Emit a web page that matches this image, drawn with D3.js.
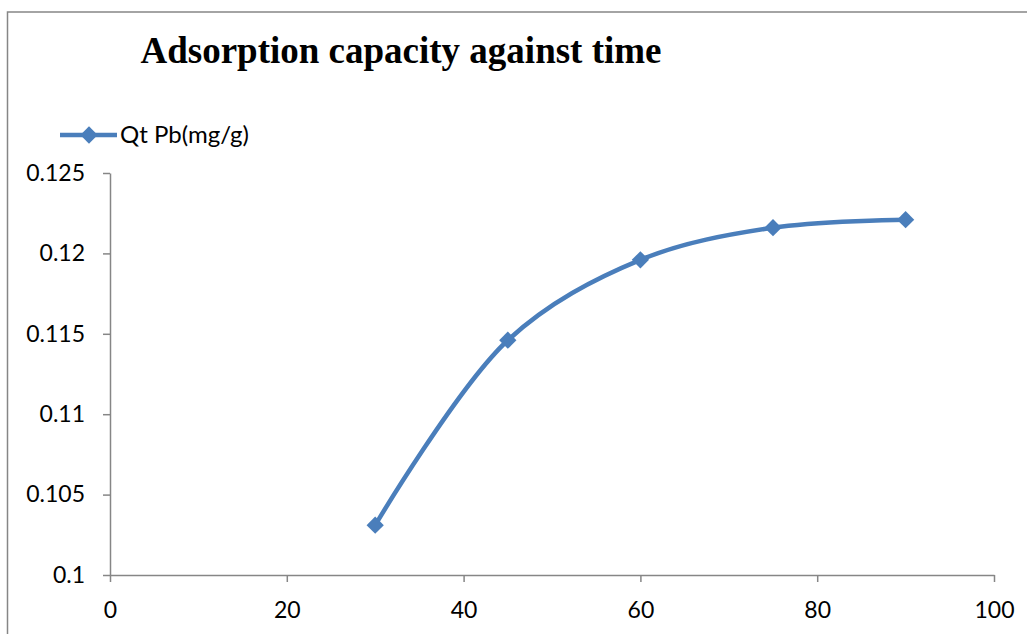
<!DOCTYPE html>
<html>
<head>
<meta charset="utf-8">
<script src="https://cdn.jsdelivr.net/npm/d3@7"></script>
<style>
  body { margin: 0; background: #fff; }
  .tick text { font-family: Lato, "Open Sans", sans-serif; font-size: 23px; fill: #000; }
</style>
</head>
<body>
<div id="chart"></div>
<script>
// time (min) vs adsorption capacity
var times = [30, 45, 60, 75, 90];
var qt = [0.1031, 0.1146, 0.1196, 0.1216, 0.1221];
var xTicks = [0, 20, 40, 60, 80, 100];
var yTicks = [0.1, 0.105, 0.11, 0.115, 0.12, 0.125];

var width = 1027, height = 634;
var svg = d3.select("#chart").append("svg")
	.attr("width", width)
	.attr("height", height);

// outer chart frame (cut off on right and bottom)
svg.append("rect")
	.attr("x", 7.5).attr("y", 12)
	.attr("width", 1040).attr("height", 700)
	.attr("fill", "none")
	.attr("stroke", "#868686")
	.attr("stroke-width", 1.5);

var x = d3.scaleLinear().domain([0, 100]).range([110, 994]);
var y = d3.scaleLinear().domain([0.1, 0.125]).range([575, 173]);

svg.append("text")
	.attr("x", 401).attr("y", 63)
	.attr("text-anchor", "middle")
	.style("font-family", "'Liberation Serif', 'Times New Roman', serif")
	.style("font-weight", "bold")
	.style("font-size", "37px")
	.text("Adsorption capacity against time");

var gx = svg.append("g")
	.attr("transform", "translate(0," + y(0.1) + ")")
	.call(d3.axisBottom(x).tickValues(xTicks).tickSize(7).tickPadding(20).tickSizeOuter(0));

var gy = svg.append("g")
	.attr("transform", "translate(" + x(0) + ",0)")
	.call(d3.axisLeft(y).tickValues(yTicks).tickSize(7).tickPadding(18).tickSizeOuter(0)
		.tickFormat(function(d) { return +d.toFixed(3) + ""; }));

[gx, gy].forEach(function(g) {
	g.select(".domain").attr("stroke", "#868686").attr("stroke-width", 1.5);
	g.selectAll(".tick line").attr("stroke", "#868686").attr("stroke-width", 1.5);
});

var color = "#4a7ebb";
var pts = times.map(function(t, i) { return [t, qt[i]]; });

svg.append("path")
	.datum(pts)
	.attr("fill", "none")
	.attr("stroke", color)
	.attr("stroke-width", 4.5)
	.attr("d", d3.line()
		.curve(d3.curveCatmullRom.alpha(0.5))
		.x(function(d) { return x(d[0]); })
		.y(function(d) { return y(d[1]); }));

var diamond = d3.symbol().type(d3.symbolDiamond2).size(190);

svg.selectAll(".pt")
	.data(pts)
	.enter().append("path")
	.attr("class", "pt")
	.attr("transform", function(d) { return "translate(" + x(d[0]) + "," + y(d[1]) + ")"; })
	.attr("d", diamond)
	.attr("fill", color);

// legend
var lg = svg.append("g").attr("transform", "translate(60,135)");
lg.append("line")
	.attr("x1", 0).attr("x2", 57)
	.attr("stroke", color).attr("stroke-width", 4.5);
lg.append("path")
	.attr("transform", "translate(29,0)")
	.attr("d", diamond)
	.attr("fill", color);
lg.append("text")
	.attr("x", 60).attr("dy", "0.35em")
	.style("font-family", "Lato, 'Open Sans', sans-serif")
	.style("font-size", "24px")
	.text("Qt Pb(mg/g)");
</script>
</body>
</html>
